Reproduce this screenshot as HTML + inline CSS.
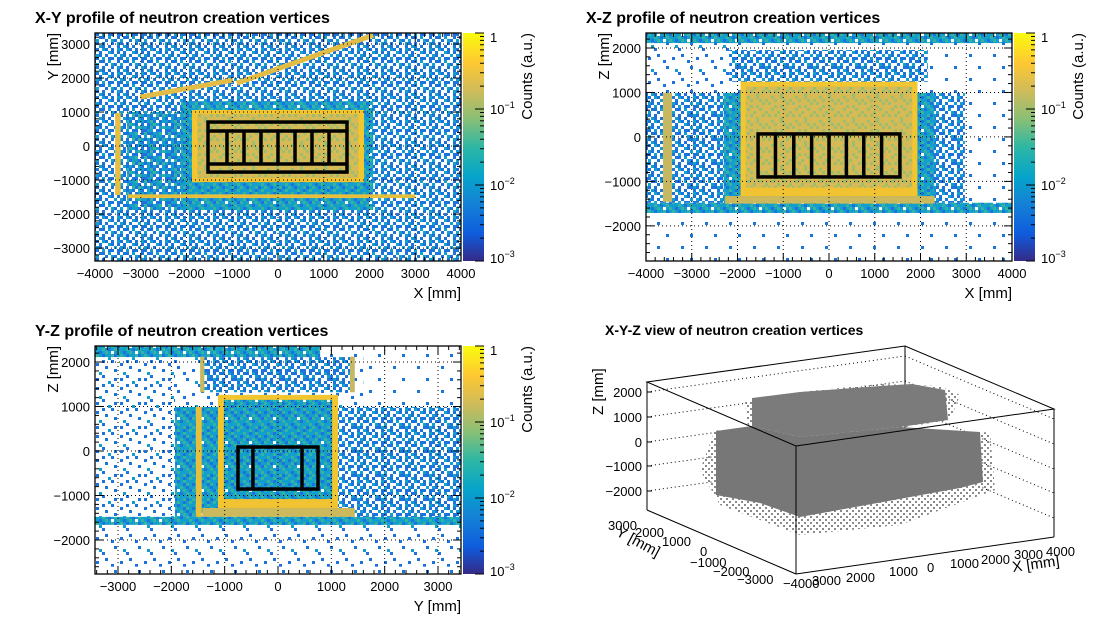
<!DOCTYPE html>
<html><head><meta charset="utf-8"><style>
html,body{margin:0;padding:0;background:#fff;}
svg{display:block;font-family:"Liberation Sans",Arial,sans-serif;}
</style></head><body>
<svg id="root" width="1103" height="626" viewBox="0 0 1103 626" xmlns="http://www.w3.org/2000/svg">
<defs id="defs">
<linearGradient id="bird" x1="0" y1="1" x2="0" y2="0">
<stop offset="0" stop-color="#352a87"/><stop offset="0.12" stop-color="#0f5cdd"/><stop offset="0.25" stop-color="#1481d6"/>
<stop offset="0.37" stop-color="#06a4ca"/><stop offset="0.5" stop-color="#2eb7a4"/><stop offset="0.62" stop-color="#87bf77"/>
<stop offset="0.75" stop-color="#d1bb59"/><stop offset="0.87" stop-color="#fec832"/><stop offset="1" stop-color="#f9fb0e"/>
</linearGradient>
</defs>
<g id="layer"></g>
</svg>
<script>
// ---- heatmap region data (data units, mm) ----
const xyRegions=[[-4000,4000,-3380,3324,'med'],[-3300,-2120,-1880,1000,'med2'],[-2120,2080,-1880,1320,'dense'],[-1880,1880,-1060,1060,'tan']];
const xyFrames=[[-1880,1880,-1060,1060,120,120]];
const xyBars=[[-3280,3000,-1530,-1420],[-3560,-3440,-1440,970]];
const xyDiag=[[-3015,1440,-985,1940],[-900,1850,2080,3260]];
const xyBox=[-1530,1508,-765,706];
const xyHLines=[441,-529];
const xyVLines=[-1115,-743,-372,0,372,743,1115];

const xzRegions=[[-4000,4000,-2790,2337,'vsparse'],[-4000,-2180,990,2110,'sparse'],[-4000,4000,2110,2337,'dense'],[-2180,2160,1240,1955,'med'],[-4000,2970,-1480,990,'med'],[-2300,2300,-1480,990,'dense'],[-4000,4000,-1710,-1480,'dense'],[-1930,1930,-1330,1240,'tan'],[-2270,2310,-1500,-1330,'tansolid']];
const xzFrames=[[-1930,1930,-1330,1240,110,190]];
const xzBars=[];
const xzTanBars=[[-3630,-3430,-1460,990]];
const xzBox=[-1550,1550,-900,67];
const xzHLines=[];
const xzVLines=[-1170,-770,-380,0,380,760,1150];

const yzRegions=[[-3431,3431,-2764,2360,'vsparse'],[-3431,-1930,-1480,2110,'sparse2'],[-3431,3431,-2600,-1660,'sparse'],[-1930,1600,990,2110,'sparse'],[-3431,790,2110,2360,'dense'],[-1930,3431,-1660,990,'med'],[-1930,-1125,-1480,990,'dense'],[-1400,1400,1320,2110,'med'],[-1125,1125,-1280,1260,'dense'],[-3431,3431,-1660,-1480,'dense'],[-1420,1440,-1480,-1280,'tansolid']];
const yzFrames=[[-1125,1125,-1280,1260,110,200]];
const yzBars=[[-1540,-1430,-1480,990]];
const yzTanBars=[[-1460,-1380,1320,2120],[1350,1440,1320,2120]];
const yzBox=[-750,750,-855,90];
const yzHLines=[];
const yzVLines=[-470,450];

const colTicks=['1','10','10','10'];
const colExp=['','−1','−2','−3'];

// ---- texture tiles (hand-drawn 8x8 cell maps) ----
const C={b:'#1c73db',t:'#139fcb',g:'#35b3a0',n:'#0f5bd6',y:'#d6ba56',G:'#9dbe6e',Y:'#e9c444'};
const tiles={
vsparse:["........","........","...b....","........","........","........","......b.","........"],
sparse:["..b.....","........","........","b.......",".....b..","........","........",".t......"],
sparse2:["..b..b..","b.......","...b....","......b.",".t......","..b.....","b.....b.","....t..."],
med:["b.tb.b.t",".b..tb.b","tb.b..t.","b.t.bb.b",".bb.t..b","t..b.tb.","b.b..b.t",".tb.b..b"],
med2:["btgb.btt",".btgtb.b","tbgb.tgt","btt.bb.b","gbbttg.b","t.gbttb.","btb.gbgt",".tbtb.tb"],
dense:["tgtbtgtt","btgtt.gt","tgbtgtbt","gtt.tgtb","ttgtbtgt","tbtgt.tg","gtbttgbt","t.tgtbtg"],
tan:["yGyyGyyy","yyGyyGyG","GyyyyyGy","yyGyGyyy","yGyyyGyy","yyyGyyyG","GyGyyyGy","yyyyGyyy"]
};
const NS='http://www.w3.org/2000/svg';
const defs=document.getElementById('defs');
const layer=document.getElementById('layer');
function mk(tag,attrs,parent){const e=document.createElementNS(NS,tag);for(const k in attrs)e.setAttribute(k,attrs[k]);(parent||layer).appendChild(e);return e;}
for(const name in tiles){
  const p=mk('pattern',{id:'p-'+name,width:24,height:24,patternUnits:'userSpaceOnUse'},defs);
  tiles[name].forEach((row,r)=>{for(let c=0;c<8;c++){const ch=row[c];if(ch!=='.')mk('rect',{x:c*3,y:r*3,width:3,height:3,fill:C[ch]},p);}});
}
function fillOf(k){if(k==='tansolid')return '#ccb95c';return 'url(#p-'+k+')';}

function txt(x,y,s,attrs,parent){const t=mk('text',Object.assign({x:x,y:y},attrs||{}),parent);t.textContent=s;return t;}

function panel(cfg){
  const g=mk('g',{});
  
  
  const sx=v=>cfg.L+(v-cfg.x0)/(cfg.x1-cfg.x0)*(cfg.R-cfg.L);
  const sy=v=>cfg.B-(v-cfg.y0)/(cfg.y1-cfg.y0)*(cfg.B-cfg.T);
  const cp=mk('clipPath',{id:'clip-'+cfg.name},defs);
  mk('rect',{x:cfg.L,y:cfg.T,width:cfg.R-cfg.L,height:cfg.B-cfg.T},cp);
  const hm=mk('g',{'clip-path':'url(#clip-'+cfg.name+')'},g);
  
  
  const R=(a,b,c,d,fill)=>mk('rect',{x:Math.min(sx(a),sx(b)),y:Math.min(sy(c),sy(d)),width:Math.abs(sx(b)-sx(a)),height:Math.abs(sy(c)-sy(d)),fill:fill},hm);
  cfg.regions.forEach(r=>{const e=R(r[0],r[1],r[2],r[3],fillOf(r[4]));});
  cfg.frames.forEach(f=>{const [a,b,c,d,t,tb]=f;
    R(a,b,d-t,d,'#f3c52e');R(a,b,c,c+tb,'#f1c232');R(a,a+t,c,d,'#f3c52e');R(b-t,b,c,d,'#f3c52e');});
  cfg.bars.forEach(b=>R(b[0],b[1],b[2],b[3],'#e6bf3e'));
  (cfg.tanBars||[]).forEach(b=>R(b[0],b[1],b[2],b[3],'#c6b862'));
  (cfg.diag||[]).forEach(d=>{const l=mk('line',{x1:sx(d[0]),y1:sy(d[1]),x2:sx(d[2]),y2:sy(d[3]),stroke:'#e2bc45','stroke-width':5},hm);});
  cfg.xt.forEach(v=>mk('line',{x1:sx(v),x2:sx(v),y1:cfg.T,y2:cfg.B,stroke:'#000','stroke-width':1,'stroke-dasharray':'1,3'},g));
  cfg.yt.forEach(v=>mk('line',{x1:cfg.L,x2:cfg.R,y1:sy(v),y2:sy(v),stroke:'#000','stroke-width':1,'stroke-dasharray':'1,3'},g));
  const bx=cfg.box;const bg=mk('g',{stroke:'#000','stroke-width':3.5,fill:'none'},g);
  
  
  mk('rect',{x:sx(bx[0]),y:sy(bx[3]),width:sx(bx[1])-sx(bx[0]),height:sy(bx[2])-sy(bx[3])},bg);
  cfg.hl.forEach(v=>mk('line',{x1:sx(bx[0]),x2:sx(bx[1]),y1:sy(v),y2:sy(v)},bg));
  cfg.vl.forEach(v=>{const yA=cfg.hl.length?sy(cfg.hl[0]):sy(bx[3]);const yB=cfg.hl.length?sy(cfg.hl[1]):sy(bx[2]);mk('line',{x1:sx(v),x2:sx(v),y1:yA,y2:yB},bg);});
  mk('rect',{x:cfg.L,y:cfg.T,width:cfg.R-cfg.L,height:cfg.B-cfg.T,fill:'none',stroke:'#000','stroke-width':1.3},g);
  const tk=mk('g',{stroke:'#000','stroke-width':1},g);
  for(let v=Math.ceil(cfg.x0/200)*200;v<=cfg.x1;v+=200){const maj=v%1000===0;const L=maj?8:4;const X=sx(v);
    mk('line',{x1:X,x2:X,y1:cfg.B,y2:cfg.B-L},tk);mk('line',{x1:X,x2:X,y1:cfg.T,y2:cfg.T+L},tk);}
  for(let v=Math.ceil(cfg.y0/200)*200;v<=cfg.y1;v+=200){const maj=v%1000===0;const L=maj?8:4;const Y=sy(v);
    mk('line',{x1:cfg.L,x2:cfg.L+L,y1:Y,y2:Y},tk);mk('line',{x1:cfg.R,x2:cfg.R-L,y1:Y,y2:Y},tk);}
  cfg.xt.forEach(v=>{const t=txt(sx(v),cfg.B+17,String(v).replace('-','−'),{'font-size':13,'text-anchor':'middle'},g);});
  cfg.yt.forEach(v=>{const t=txt(cfg.L-5,sy(v)+5,String(v).replace('-','−'),{'font-size':13,'text-anchor':'end'},g);});
  const xtitle=txt(cfg.R,cfg.B+37,cfg.xlab,{'font-size':15,'text-anchor':'end'},g);
  
  const ytitle=txt(0,0,cfg.ylab,{'font-size':15,'text-anchor':'end',transform:'translate('+(cfg.L-37)+','+cfg.T+') rotate(-90)'},g);
  
  const title=txt(cfg.L-60,cfg.T-10,cfg.title,{'font-size':16,'font-weight':'bold'},g);
  
  const cb=mk('g',{},g);
  
  
  const cx=cfg.R+2,cw=21;
  mk('rect',{x:cx,y:cfg.T,width:cw,height:cfg.B-cfg.T,fill:'url(#bird)'},cb);
  const H=cfg.B-cfg.T;
  colTicks.forEach((s,i)=>{const Y=cfg.T+i*H/3;
    mk('line',{x1:cx+cw,x2:cx+cw-9,y1:Y,y2:Y,stroke:'#000'},cb);
    for(let m=2;m<10&&i<3;m++){const yy=Y+H/3*(1-Math.log10(m));mk('line',{x1:cx+cw,x2:cx+cw-4,y1:yy,y2:yy,stroke:'#000'},cb);}
    const t=txt(cx+cw+6,Y+(i===0?9:i===3?2:5),s,{'font-size':13},cb);
    if(colExp[i]){const sp=mk('tspan',{'font-size':9,dy:-6},t);sp.textContent=colExp[i];}
  });
  const cl=txt(0,0,'Counts (a.u.)',{'font-size':15,'text-anchor':'end',transform:'translate('+(cx+cw+48)+','+cfg.T+') rotate(-90)'},cb);
  
}
const T4=[-4000,-3000,-2000,-1000,0,1000,2000,3000,4000];
panel({name:'xy-profile',L:95,R:461,T:33,B:261,x0:-4000,x1:4000,y0:-3380,y1:3324,regions:xyRegions,frames:xyFrames,bars:xyBars,diag:xyDiag,box:xyBox,hl:xyHLines,vl:xyVLines,xt:T4,yt:[-3000,-2000,-1000,0,1000,2000,3000],xlab:'X [mm]',ylab:'Y [mm]',title:'X-Y profile of neutron creation vertices'});
panel({name:'xz-profile',L:646,R:1012,T:33,B:261,x0:-4000,x1:4000,y0:-2790,y1:2337,regions:xzRegions,frames:xzFrames,bars:xzBars,tanBars:xzTanBars,box:xzBox,hl:xzHLines,vl:xzVLines,xt:T4,yt:[-2000,-1000,0,1000,2000],xlab:'X [mm]',ylab:'Z [mm]',title:'X-Z profile of neutron creation vertices'});
panel({name:'yz-profile',L:95,R:461,T:346,B:574,x0:-3431,x1:3431,y0:-2764,y1:2360,regions:yzRegions,frames:yzFrames,bars:yzBars,tanBars:yzTanBars,box:yzBox,hl:yzHLines,vl:yzVLines,xt:[-3000,-2000,-1000,0,1000,2000,3000],yt:[-2000,-1000,0,1000,2000],xlab:'Y [mm]',ylab:'Z [mm]',title:'Y-Z profile of neutron creation vertices'});
</script>
<svg width="1103" height="626" style="position:absolute;left:0;top:0" xmlns="http://www.w3.org/2000/svg">
<defs><pattern id="grayfuzz" width="6" height="6" patternUnits="userSpaceOnUse"><rect x="0" y="0" width="2" height="2" fill="#8a8a8a"/><rect x="3" y="3" width="2" height="2" fill="#8a8a8a"/></pattern></defs>
<text x="605" y="335" font-size="14" font-weight="bold" font-family="Liberation Sans, sans-serif">X-Y-Z view of neutron creation vertices</text>
<g stroke="#000" stroke-width="1" stroke-dasharray="1,3" fill="none">
<line x1="647" y1="392" x2="905" y2="356"/><line x1="905" y1="356" x2="1054" y2="419"/>
<line x1="647" y1="417" x2="905" y2="381"/><line x1="905" y1="381" x2="1054" y2="444"/>
<line x1="647" y1="442" x2="905" y2="406"/><line x1="905" y1="406" x2="1054" y2="469"/>
<line x1="647" y1="466" x2="905" y2="430"/><line x1="905" y1="430" x2="1054" y2="493"/>
<line x1="647" y1="491" x2="905" y2="455"/><line x1="905" y1="455" x2="1054" y2="518"/>
</g>
<line x1="905" y1="346" x2="905" y2="474" stroke="#000" stroke-width="1"/>
<g>
<polygon points="700,470 715,430 800,440 990,432 995,490 900,525 800,535 720,505" fill="url(#grayfuzz)"/>
<polygon points="745,402 800,392 880,384 940,386 960,395 950,420 900,428 800,438 748,428" fill="url(#grayfuzz)"/>
<polygon points="752,398 800,392 880,386 912,384 945,390 948,420 900,427 800,437 752,426" fill="#7b7b7b"/>
<polygon points="716,431 752,426 800,437 900,427 980,432 983,482 960,488 800,517 760,503 716,495" fill="#777"/>
</g>
<g stroke="#000" stroke-width="1" fill="none">
<polygon points="647,382 905,346 1054,409 796,446"/>
<line x1="647" y1="382" x2="647" y2="510"/><line x1="1054" y1="409" x2="1054" y2="537"/><line x1="796" y1="446" x2="796" y2="574"/>
<line x1="647" y1="510" x2="796" y2="574"/><line x1="796" y1="574" x2="1054" y2="537"/>
<line x1="647" y1="392" x2="652" y2="392"/><line x1="647" y1="417" x2="652" y2="417"/><line x1="647" y1="442" x2="652" y2="442"/><line x1="647" y1="466" x2="652" y2="466"/><line x1="647" y1="491" x2="652" y2="491"/>
</g>
<g font-family="Liberation Sans, sans-serif" font-size="13">
<text x="642" y="397" text-anchor="end">2000</text><text x="642" y="422" text-anchor="end">1000</text><text x="642" y="447" text-anchor="end">0</text><text x="642" y="471" text-anchor="end">−1000</text><text x="642" y="496" text-anchor="end">−2000</text>
<text transform="translate(603,415) rotate(-90)" font-size="15">Z [mm]</text>
<text x="783" y="588">−4000</text><text x="812" y="585">3000</text><text x="846" y="582">2000</text><text x="889" y="576">1000</text><text x="927" y="572">0</text><text x="950" y="568">1000</text><text x="981" y="564">2000</text><text x="1014" y="559">3000</text><text x="1046" y="556">4000</text>
<text transform="translate(1013,572) rotate(-8)" font-size="15">X [mm]</text>
<text x="608" y="530">3000</text><text x="635" y="537">2000</text><text x="662" y="546">1000</text><text x="700" y="556">0</text><text x="690" y="567">−1000</text><text x="713" y="576">−2000</text><text x="737" y="584">−3000</text>
<text transform="translate(615,535) rotate(28)" font-size="15">Y [mm]</text>
</g>
</svg>
</body></html>
